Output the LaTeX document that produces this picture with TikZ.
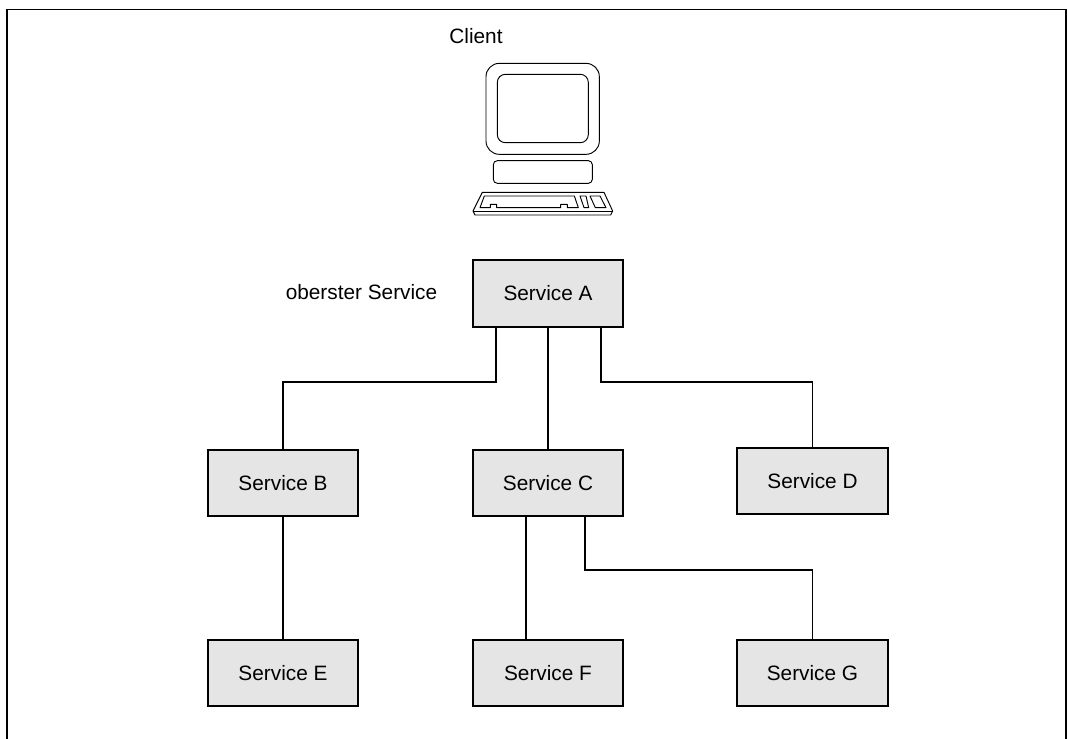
\documentclass[tikz,border=0pt]{standalone}
\usepackage{fontspec}
\setmainfont{Liberation Sans}
\newcommand{\svcfont}{\fontsize{15.6}{18}\selectfont}
\tikzset{
	service/.style={rectangle,draw,line width=1.3pt,fill=black!10,minimum width=113pt,minimum height=50pt,inner sep=0pt,font=\svcfont},
	label/.style={font=\svcfont,inner sep=0pt},
	wire/.style={line width=1.25pt},
	thinline/.style={line width=.7pt,line join=round}
}

\begin{document}
\begin{tikzpicture}[x=.75pt,y=-.75pt]
	\useasboundingbox (0,0) rectangle (1068,739);
	\path (476,36) coordinate (client);
	\path (361.5,292) coordinate (top);
	\path (548,293.5) coordinate (a);
	\path (283,483) coordinate (b);
	\path (548,483) coordinate (c);
	\path (812.5,481) coordinate (d);
	\path (283,673) coordinate (e);
	\path (548,673) coordinate (f);
	\path (812.5,673) coordinate (g);

	\draw[wire] (7,739) -- (7,9.5) -- (1066,9.5) -- (1066,739);

	\draw (client) node(client_label) [label] {Client};
	\draw (top) node(top_label) [label] {oberster Service};

	% computer, in units of the 3x crop
	\begin{scope}[shift={(450,50)},x=.25pt,y=-.25pt,thinline]
		\draw[rounded corners=10pt] (108,40) rectangle (448,313);
		\draw[rounded corners=6pt] (142,73) rectangle (415,278);
		\draw[rounded corners=3pt] (130,332) rectangle (427,400);
		\draw (97,427) -- (462,427) -- (488,483) -- (482,495) -- (75,495) -- (69,483) -- cycle;
		\draw (69,483) -- (488,483);
		\draw (103,438) -- (373,438) -- (385,473) -- (352,473) -- (352,463) -- (332,463) -- (332,473) -- (140,473) -- (140,463) -- (121,463) -- (121,473) -- (90,473) -- cycle;
		\draw (390,438) -- (408,438) -- (416,473) -- (402,473) -- cycle;
		\draw (420,438) -- (450,438) -- (468,473) -- (436,473) -- cycle;
	\end{scope}

	\draw (a) node(serviceA) [service] {Service A};
	\draw (b) node(serviceB) [service] {Service B};
	\draw (c) node(serviceC) [service] {Service C};
	\draw (d) node(serviceD) [service] {Service D};
	\draw (e) node(serviceE) [service] {Service E};
	\draw (f) node(serviceF) [service] {Service F};
	\draw (g) node(serviceG) [service] {Service G};

	\draw[wire] ([xshift=-39pt]serviceA.south) -- ++(0,54) -| (serviceB.north);
	\draw[wire] (serviceA) -- (serviceC);
	\draw[wire] ([xshift=39.5pt]serviceA.south) -- ++(0,54) -| (serviceD.north);
	\draw[wire] (serviceB) -- (serviceE);
	\draw[wire] ([xshift=-16.5pt]serviceC.south) -- ([xshift=-16.5pt]serviceF.north);
	\draw[wire] ([xshift=27.75pt]serviceC.south) -- ++(0,53) -| (serviceG.north);
\end{tikzpicture}
\end{document}
